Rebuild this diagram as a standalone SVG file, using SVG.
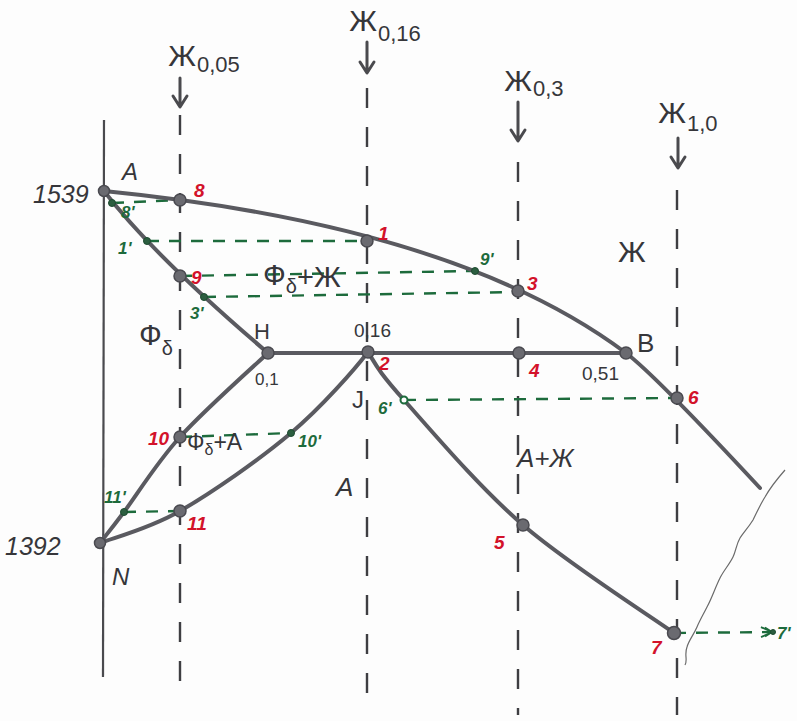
<svg xmlns="http://www.w3.org/2000/svg" width="797" height="721" viewBox="0 0 797 721">
<defs>
<style>
.bg{fill:#fdfdfd}
.axis{stroke:#4a4a4e;stroke-width:2.2;fill:none}
.vdash{stroke:#3e3e42;stroke-width:2.4;fill:none;stroke-dasharray:20 19}
.curve{stroke:#5a5a60;stroke-width:4;fill:none;stroke-linecap:round;stroke-linejoin:round}
.gdash{stroke:#1d6b3c;stroke-width:2.4;fill:none;stroke-dasharray:12 10}
.arrow{stroke:#4a4a4e;stroke-width:3;fill:none;stroke-linecap:round;stroke-linejoin:round}
.wavy{stroke:#6a6a6a;stroke-width:1.2;fill:none}
.pt{fill:#6a6a70;stroke:#4a4a50;stroke-width:1.5}
.gpt{fill:#2c5e40;stroke:#1d4b30;stroke-width:1}
.t{font-family:"Liberation Sans","DejaVu Sans",sans-serif;fill:#36363a}
.red{font-family:"Liberation Sans","DejaVu Sans",sans-serif;fill:#d3122a;font-weight:bold;font-style:italic;font-size:19px}
.grn{font-family:"Liberation Sans","DejaVu Sans",sans-serif;fill:#1d6b3c;font-weight:bold;font-style:italic;font-size:17px}
.star{font-family:"Liberation Sans","DejaVu Sans",sans-serif;fill:#36363a;font-size:30px}
</style>
<marker id="chev" viewBox="0 0 14 12" refX="12" refY="6" markerWidth="14" markerHeight="12" markerUnits="userSpaceOnUse" orient="auto">
<path d="M1,1 L12,6 L1,11 M5,1.5 L12,6 L5,10.5" stroke="#1d6b3c" stroke-width="1.8" fill="none"/>
</marker>
</defs>
<rect class="bg" x="0" y="0" width="797" height="721"/>

<g id="axes">
<line class="axis" x1="104" y1="120" x2="103" y2="677"/>
<line class="vdash" x1="180" y1="115" x2="180" y2="690"/>
<line class="vdash" x1="367" y1="88" x2="367" y2="700"/>
<line class="vdash" x1="518" y1="162" x2="518" y2="715"/>
<line class="vdash" x1="677" y1="190" x2="677" y2="715"/>
</g>

<g id="alloy-arrows">
<path class="arrow" d="M180,78 V106 M173,96 L180,107 L187,96"/>
<path class="arrow" d="M367,42 V72 M360,62 L367,73 L374,62"/>
<path class="arrow" d="M518,102 V140 M511,130 L518,141 L525,130"/>
<path class="arrow" d="M678,138 V167 M671,157 L678,168 L685,157"/>
<text class="star" x="182" y="66" text-anchor="middle">Ж</text>
<text class="t" x="197" y="72" font-size="22">0,05</text>
<text class="star" x="363" y="31" text-anchor="middle">Ж</text>
<text class="t" x="378" y="41" font-size="22">0,16</text>
<text class="star" x="518" y="91" text-anchor="middle">Ж</text>
<text class="t" x="533" y="96" font-size="22">0,3</text>
<text class="star" x="672" y="123" text-anchor="middle">Ж</text>
<text class="t" x="687" y="131" font-size="22">1,0</text>
</g>

<g id="connectors">
<path class="gdash" d="M112,203 L180,200"/>
<path class="gdash" d="M147,241 L367,241"/>
<path class="gdash" d="M180,276 L475,271"/>
<path class="gdash" d="M204,297 L518,292"/>
<path class="gdash" d="M404,400 L677,398"/>
<path class="gdash" d="M180,437 L291,433"/>
<path class="gdash" d="M124,512 L180,511"/>
<path class="gdash" d="M674,633 L772,632" marker-end="url(#chev)"/>
<path id="liquidus" class="curve" d="M104,191 Q457,226 626,353 Q655,375 760,488"/>
<path id="solidus-delta" class="curve" d="M104,191 Q154,256 268,353"/>
<path id="peritectic" class="curve" d="M268,353 L626,353"/>
<path id="HN" class="curve" d="M268,353 C253,367 204,410.5 180,437 C156,463.5 137.3,494.3 124,512 C110.7,529.7 104,537.8 100,543"/>
<path id="JN" class="curve" d="M368,352 C355,369 322.3,406.5 291,433 C259.7,459.5 211.8,492.7 180,511 C148.2,529.3 113.3,537.7 100,543"/>
<path id="JE" class="curve" d="M368,352 C376,365 378.2,371.2 404,400 C429.8,428.8 478,486.2 523,525 C568,563.8 648.8,615 674,633"/>
<path class="wavy" d="M785,470 C778,478 770,488 765,497 C760,505 757,512 753,520 C748,528 744,532 740,538 C736,545 736,551 733,557 C729,565 724,570 720,578 C715,588 712,598 707,607 C703,615 700,620 697,627 C693,636 689,640 687,647 C684,655 688,660 685,665"/>
</g>

<g id="points">
<circle class="pt" cx="104" cy="191" r="5.5"/>
<circle class="pt" cx="180" cy="200" r="6"/>
<circle class="pt" cx="367" cy="241" r="6"/>
<circle class="pt" cx="518" cy="291" r="6"/>
<circle class="pt" cx="626" cy="353" r="6"/>
<circle class="pt" cx="677" cy="398" r="6"/>
<circle class="pt" cx="180" cy="276" r="6"/>
<circle class="pt" cx="268" cy="353" r="6"/>
<circle class="pt" cx="368" cy="352" r="6"/>
<circle class="pt" cx="519" cy="353" r="6"/>
<circle class="pt" cx="180" cy="437" r="6"/>
<circle class="pt" cx="180" cy="511" r="6"/>
<circle class="pt" cx="100" cy="543" r="5.5"/>
<circle class="pt" cx="523" cy="525" r="6"/>
<circle class="pt" cx="674" cy="633" r="6.5"/>
<circle class="gpt" cx="112" cy="203" r="3.5"/>
<circle class="gpt" cx="147" cy="241" r="3.5"/>
<circle class="gpt" cx="204" cy="297" r="3.5"/>
<circle class="gpt" cx="475" cy="271" r="3.5"/>
<circle cx="404" cy="400" r="3.5" fill="#ffffff" stroke="#1d6b3c" stroke-width="2"/>
<circle class="gpt" cx="291" cy="433" r="3.5"/>
<circle class="gpt" cx="124" cy="512" r="3.5"/>
<circle class="gpt" cx="773" cy="632" r="2.5"/>
</g>

<g id="point-labels">
<text class="red" x="194" y="197">8</text>
<text class="red" x="378" y="240">1</text>
<text class="red" x="191" y="284">9</text>
<text class="red" x="527" y="290">3</text>
<text class="red" x="379" y="370">2</text>
<text class="red" x="529" y="377">4</text>
<text class="red" x="688" y="404">6</text>
<text class="red" x="494" y="549">5</text>
<text class="red" x="651" y="654">7</text>
<text class="red" x="148" y="445">10</text>
<text class="red" x="187" y="530">11</text>
<text class="grn" x="121" y="218">8'</text>
<text class="grn" x="118" y="254">1'</text>
<text class="grn" x="190" y="319">3'</text>
<text class="grn" x="480" y="265">9'</text>
<text class="grn" x="378" y="414">6'</text>
<text class="grn" x="298" y="447">10'</text>
<text class="grn" x="104" y="503">11'</text>
<text class="grn" x="777" y="639">7'</text>
</g>

<g id="region-labels">
<text class="t" x="33" y="203" font-size="25" font-style="italic">1539</text>
<text class="t" x="5" y="555" font-size="25" font-style="italic">1392</text>
<text class="t" x="122" y="180" font-size="24" font-style="italic">A</text>
<text class="t" x="254" y="339" font-size="22">H</text>
<text class="t" x="255" y="385" font-size="17">0,1</text>
<text class="t" x="354" y="337" font-size="19">0,16</text>
<text class="t" x="637" y="352" font-size="26">B</text>
<text class="t" x="582" y="380" font-size="19">0,51</text>
<text class="t" x="352" y="408" font-size="24">J</text>
<text class="t" x="112" y="585" font-size="24" font-style="italic">N</text>
<text class="t" x="336" y="496" font-size="26" font-style="italic">A</text>
<text class="t" x="517" y="467" font-size="26" font-style="italic">A+Ж</text>
<text class="star" x="618" y="262" font-size="34">Ж</text>
<text class="t" x="139" y="345" font-size="30">Ф<tspan font-size="20" dy="10">δ</tspan></text>
<text class="t" x="263" y="285" font-size="30">Ф<tspan font-size="20" dy="8">δ</tspan><tspan dy="-6" font-size="29">+Ж</tspan></text>
<text class="t" x="187" y="450" font-size="23">Ф<tspan font-size="16" dy="5">δ</tspan><tspan dy="-5">+A</tspan></text>
</g>
</svg>
